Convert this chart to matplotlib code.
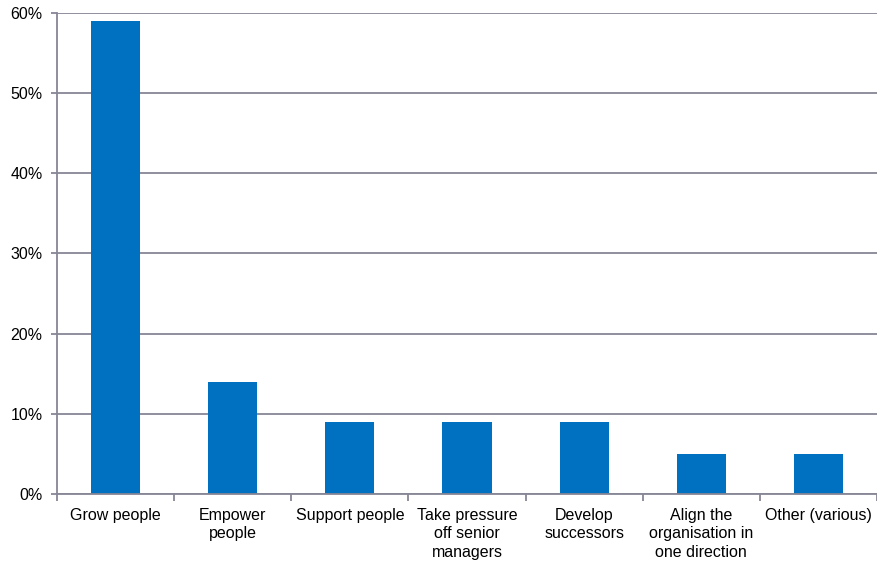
import matplotlib.pyplot as plt
import numpy as np

plt.rcParams['font.family'] = ['Liberation Sans', 'DejaVu Sans']

# Data
categories = ["Grow people", "Empower\npeople", "Support people", "Take pressure\noff senior\nmanagers",
              "Develop\nsuccessors", "Align the\norganisation in\none direction", "Other (various)"]
values = [59, 14, 9, 9, 9, 5, 5]
y_ticks = [0, 10, 20, 30, 40, 50, 60]

grid_color = "#868696"
bar_color = "#0070C0"

fig = plt.figure(figsize=(8.77, 5.62), dpi=100)
ax = fig.add_axes([0.065, 0.121, 0.935, 0.856])

x = np.arange(len(categories))
ax.bar(x, values, width=0.42, color=bar_color, zorder=3)

ax.set_xlim(-0.5, len(categories) - 0.5)
ax.set_ylim(0, 60)
ax.set_yticks(y_ticks)
ax.set_yticklabels([f"{t}%" for t in y_ticks])
ax.yaxis.grid(True, color=grid_color, linewidth=1.3, zorder=0)

# category boundary ticks on x axis
ax.set_xticks(np.arange(-0.5, len(categories) + 0.5, 1))
ax.set_xticklabels([])
ax.set_xticks(x, minor=True)
ax.set_xticklabels(categories, minor=True, fontsize=11.5, linespacing=1.3, va="top")
ax.tick_params(axis="x", which="minor", length=0, pad=10)
ax.tick_params(axis="x", which="major", length=5, width=1.3, color=grid_color)
ax.tick_params(axis="y", length=4.5, width=1.3, color=grid_color, labelsize=11.5, pad=6)

for s in ["top", "right"]:
    ax.spines[s].set_visible(False)
for s in ["left", "bottom"]:
    ax.spines[s].set_color(grid_color)
    ax.spines[s].set_linewidth(1.3)
    ax.spines[s].set_zorder(4)

plt.savefig("out.png", dpi=100)
